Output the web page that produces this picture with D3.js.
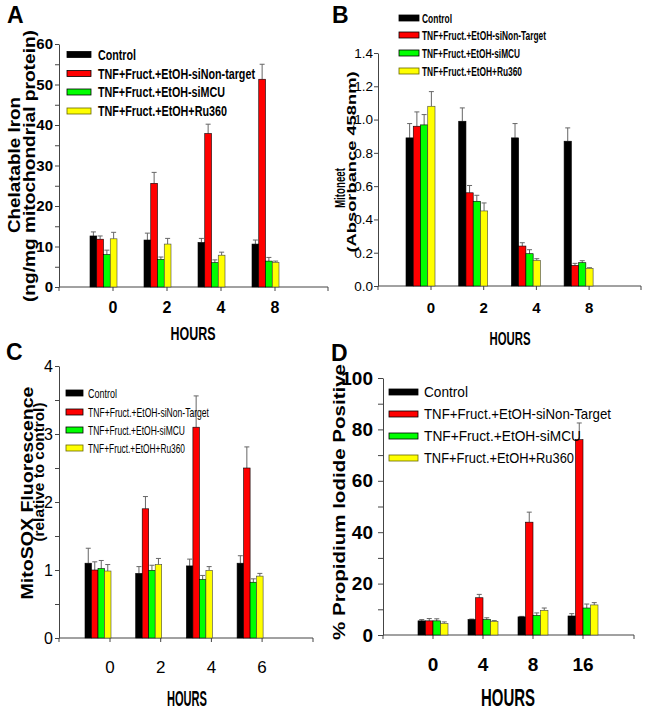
<!DOCTYPE html>
<html><head><meta charset="utf-8">
<script src="https://cdn.jsdelivr.net/npm/d3@7"></script>
<style>body{margin:0;background:#fff}svg{display:block}</style>
</head><body>
<script>
// ---------------- DATA ----------------
const seriesColors = ["#000000", "#ff0000", "#00ff00", "#ffff00"];
const seriesNamesA = ["Control", "TNF+Fruct.+EtOH-siNon-target", "TNF+Fruct.+EtOH-siMCU", "TNF+Fruct.+EtOH+Ru360"];
const seriesNames = ["Control", "TNF+Fruct.+EtOH-siNon-Target", "TNF+Fruct.+EtOH-siMCU", "TNF+Fruct.+EtOH+Ru360"];

// Panel A: Chelatable iron
const hoursA = ["0", "2", "4", "8"];
const ironControl = [12.6, 11.6, 11.0, 10.6];
const ironNonTarget = [11.8, 25.6, 37.9, 51.3];
const ironSiMCU = [8.0, 6.8, 6.0, 6.4];
const ironRu360 = [11.9, 10.6, 7.85, 6.1];
const ironControlErr = [1.0, 1.7, 1.0, 1.0];
const ironNonTargetErr = [0.8, 2.7, 2.3, 3.7];
const ironSiMCUErr = [1.1, 0.6, 0.7, 0.9];
const ironRu360Err = [1.6, 1.4, 0.75, 0.3];
const ticksA = [0, 10, 20, 30, 40, 50, 60];

// Panel B: Mitoneet
const hoursB = ["0", "2", "4", "8"];
const mitoControl = [0.89, 0.99, 0.89, 0.87];
const mitoNonTarget = [0.96, 0.56, 0.24, 0.124];
const mitoSiMCU = [0.968, 0.509, 0.194, 0.14];
const mitoRu360 = [1.08, 0.451, 0.154, 0.106];
const mitoControlErr = [0.086, 0.08, 0.086, 0.08];
const mitoNonTargetErr = [0.086, 0.044, 0.02, 0.012];
const mitoSiMCUErr = [0.062, 0.036, 0.024, 0.012];
const mitoRu360Err = [0.088, 0.048, 0.01, 0.004];
const ticksB = [0, 0.2, 0.4, 0.6, 0.8, 1.0, 1.2, 1.4];

// Panel C: MitoSOX
const hoursC = ["0", "2", "4", "6"];
const soxControl = [1.10, 0.95, 1.06, 1.10];
const soxNonTarget = [1.0, 1.90, 3.10, 2.50];
const soxSiMCU = [1.02, 0.995, 0.86, 0.82];
const soxRu360 = [0.985, 1.08, 0.995, 0.91];
const soxControlErr = [0.22, 0.10, 0.10, 0.11];
const soxNonTargetErr = [0.12, 0.18, 0.46, 0.31];
const soxSiMCUErr = [0.12, 0.075, 0.06, 0.05];
const soxRu360Err = [0.095, 0.09, 0.055, 0.04];
const ticksC = [0, 1, 2, 3, 4];

// Panel D: Propidium iodide
const hoursD = ["0", "4", "8", "16"];
const piControl = [5.5, 6.0, 7.05, 7.4];
const piNonTarget = [5.5, 14.5, 43.9, 76.0];
const piSiMCU = [5.5, 6.0, 7.6, 10.5];
const piRu360 = [4.5, 5.3, 9.6, 11.7];
const piControlErr = [0.5, 0.2, 0.2, 0.9];
const piNonTargetErr = [0.9, 1.3, 3.9, 6.5];
const piSiMCUErr = [0.8, 0.7, 1.0, 1.55];
const piRu360Err = [0.6, 0.3, 0.9, 0.9];
const ticksD = [0, 20, 40, 60, 80, 100];

// ---------------- DRAWING ----------------
const W = 646, H = 710;
const NARROW = "'Liberation Sans Narrow','Arial Narrow',sans-serif";
const WIDE = "'Liberation Sans',Arial,sans-serif";
const svg = d3.select("body").append("svg").attr("width", W).attr("height", H)
  .style("background", "#fff");

function text(g, x, y, s, o) {
  const t = g.append("text").attr("x", x).attr("y", y).text(s)
    .attr("font-family", o.family || NARROW)
    .attr("font-size", o.size)
    .attr("font-weight", o.weight || "bold")
    .attr("text-anchor", o.anchor || "start")
    .attr("fill", "#000");
  if (o.len) t.attr("textLength", o.len).attr("lengthAdjust", "spacingAndGlyphs");
  return t;
}
function vtext(g, x, y, s, o) {
  const t = g.append("text").attr("transform", `translate(${x},${y}) rotate(-90)`).text(s)
    .attr("font-family", o.family || WIDE)
    .attr("font-size", o.size)
    .attr("font-weight", "bold")
    .attr("text-anchor", "middle")
    .attr("fill", "#000");
  if (o.len) t.attr("textLength", o.len).attr("lengthAdjust", "spacingAndGlyphs");
  return t;
}

function panel(c) {
  const g = svg.append("g");
  const keys = [0, 1, 2, 3];
  const y = d3.scaleLinear().domain([c.yMin, c.yMax]).range([c.y0, c.yTop]);
  const n = c.cats.length;
  const pi = 1 - c.bandW / c.step, po = pi;
  const a = c.firstBand - po * c.step;
  const xg = d3.scaleBand().domain(c.cats).range([a, a + c.step * (n - pi + 2 * po)])
    .paddingInner(pi).paddingOuter(po);
  const xs = d3.scaleBand().domain(keys).range([0, xg.bandwidth()]);

  // y axis
  const ya = g.append("g").attr("transform", `translate(${c.x0},0)`)
    .call(d3.axisLeft(y).tickValues(c.ticks).tickSize(c.tickLen).tickSizeOuter(0)
      .tickPadding(c.tickPad).tickFormat(c.fmt));
  ya.select(".domain").attr("stroke", "#444");
  ya.selectAll(".tick line").attr("stroke", "#444");
  ya.selectAll(".tick text").attr("font-family", NARROW).attr("font-size", c.tickFont)
    .attr("font-weight", c.tickWeight || "bold").attr("fill", "#000");
  if (c.minor) {
    const ym = g.append("g").attr("transform", `translate(${c.x0},0)`)
      .call(d3.axisLeft(y).tickValues(c.minor).tickSize(c.tickLen).tickFormat(""));
    ym.select(".domain").remove();
    ym.selectAll(".tick line").attr("stroke", "#444");
  }

  // x axis
  g.append("line").attr("x1", c.x0).attr("x2", c.xEnd).attr("y1", y(0)).attr("y2", y(0))
    .attr("stroke", "#444");
  const xt = c.cats.map(d => xg(d) + c.tickOff);
  [c.x0, ...xt, c.xEnd].forEach(x => g.append("line").attr("x1", x).attr("x2", x)
    .attr("y1", y(0)).attr("y2", y(0) + 4).attr("stroke", "#444"));
  c.cats.forEach((d, i) => text(g, xt[i], c.xLabY, d,
    { size: c.xFont, anchor: "middle", weight: c.xWeight || "bold" }));
  text(g, c.hoursX, c.hoursY, "HOURS", { size: c.hoursFont, anchor: "middle", len: c.hoursLen });

  // bars
  c.series.forEach((s, k) => {
    c.cats.forEach((cat, i) => {
      const x = xg(cat) + xs(k), v = s.values[i], e = s.errs[i];
      const cx = x + xs.bandwidth() / 2;
      g.append("line").attr("x1", cx).attr("x2", cx).attr("y1", y(v)).attr("y2", y(v + e))
        .attr("stroke", "#666").attr("stroke-width", 1);
      g.append("line").attr("x1", cx - 2.5).attr("x2", cx + 2.5).attr("y1", y(v + e)).attr("y2", y(v + e))
        .attr("stroke", "#666").attr("stroke-width", 1);
      g.append("rect").attr("x", x).attr("y", y(v)).attr("width", xs.bandwidth())
        .attr("height", y(0) - y(v)).attr("fill", seriesColors[k])
        .attr("stroke", k === 3 ? "#444" : "#000").attr("stroke-width", 0.6);
    });
  });

  // legend
  c.names.forEach((nm, k) => {
    const cy = c.legRows[k];
    g.append("rect").attr("x", c.legX).attr("y", cy - c.swH / 2).attr("width", c.swW).attr("height", c.swH)
      .attr("fill", seriesColors[k]).attr("stroke", k === 3 ? "#666600" : "#000").attr("stroke-width", 0.8);
    text(g, c.legTextX, cy + c.legFont * 0.36, nm,
      { size: c.legFont, weight: c.legWeight, family: c.legFamily, len: c.legLens[k] });
  });

  // panel letter
  text(g, c.letterX, c.letterY, c.letter, { size: 23, family: WIDE });
  // y titles
  c.titles.forEach(t => vtext(g, t.x, t.y, t.s, { size: t.size, len: t.len }));
}

panel({
  letter: "A", letterX: 7, letterY: 23,
  cats: hoursA, names: seriesNamesA,
  series: [
    { values: ironControl, errs: ironControlErr },
    { values: ironNonTarget, errs: ironNonTargetErr },
    { values: ironSiMCU, errs: ironSiMCUErr },
    { values: ironRu360, errs: ironRu360Err }],
  yMin: 0, yMax: 60, y0: 287, yTop: 44, x0: 59, xEnd: 328,
  ticks: ticksA, minor: [5, 15, 25, 35, 45, 55], fmt: d3.format("d"),
  tickLen: 4, tickPad: 2, tickFont: 15,
  firstBand: 90, step: 54, bandW: 27, tickOff: 23,
  xLabY: 313, xFont: 16, hoursX: 193, hoursY: 340, hoursFont: 19, hoursLen: 45,
  legX: 67, swW: 24, swH: 6, legTextX: 98, legRows: [54.5, 73.5, 92, 111], legFont: 14,
  legWeight: "bold", legLens: [38, 157, 127, 129],
  titles: [{ x: 20, y: 165, s: "Chelatable Iron", size: 16, len: 136 },
           { x: 35, y: 166, s: "(ng/mg mitochondrial protein)", size: 16, len: 272 }]
});

panel({
  letter: "B", letterX: 332, letterY: 23,
  cats: hoursB, names: seriesNames,
  series: [
    { values: mitoControl, errs: mitoControlErr },
    { values: mitoNonTarget, errs: mitoNonTargetErr },
    { values: mitoSiMCU, errs: mitoSiMCUErr },
    { values: mitoRu360, errs: mitoRu360Err }],
  yMin: 0, yMax: 1.4, y0: 286, yTop: 53, x0: 378, xEnd: 641,
  ticks: ticksB, minor: null, fmt: d3.format(".1f"),
  tickLen: 4, tickPad: 1, tickFont: 13.5, tickWeight: "normal",
  firstBand: 406, step: 52.7, bandW: 29, tickOff: 25,
  xLabY: 313, xFont: 15, hoursX: 510, hoursY: 345, hoursFont: 18, hoursLen: 41,
  legX: 399, swW: 20, swH: 6, legTextX: 422, legRows: [18, 35, 53, 71], legFont: 13,
  legWeight: "bold", legLens: [30, 124, 98, 100],
  titles: [{ x: 345, y: 188, s: "Mitoneet", size: 14, len: 40 },
           { x: 356, y: 162, s: "(Absorbance 458nm)", size: 12, len: 181 }]
});

panel({
  letter: "C", letterX: 6, letterY: 360,
  cats: hoursC, names: seriesNames,
  series: [
    { values: soxControl, errs: soxControlErr },
    { values: soxNonTarget, errs: soxNonTargetErr },
    { values: soxSiMCU, errs: soxSiMCUErr },
    { values: soxRu360, errs: soxRu360Err }],
  yMin: 0, yMax: 4, y0: 638, yTop: 366, x0: 59, xEnd: 313,
  ticks: ticksC, minor: [0.5, 1.5, 2.5, 3.5], fmt: d3.format("d"),
  tickLen: 4, tickPad: 2, tickFont: 16, tickWeight: "normal",
  firstBand: 85, step: 50.7, bandW: 26, tickOff: 25,
  xLabY: 673, xFont: 17, xWeight: "normal", hoursX: 187, hoursY: 706, hoursFont: 22, hoursLen: 40,
  legX: 66, swW: 17, swH: 6, legTextX: 88, legRows: [393, 412, 430, 448], legFont: 13.5,
  legWeight: "normal", legLens: [29, 121, 97, 97],
  titles: [{ x: 33, y: 493, s: "MitoSOX Fluorescence", size: 16, len: 213 },
           { x: 44, y: 472, s: "(relative to control)", size: 15, len: 139 }]
});

panel({
  letter: "D", letterX: 331, letterY: 361,
  cats: hoursD, names: seriesNames,
  series: [
    { values: piControl, errs: piControlErr },
    { values: piNonTarget, errs: piNonTargetErr },
    { values: piSiMCU, errs: piSiMCUErr },
    { values: piRu360, errs: piRu360Err }],
  yMin: 0, yMax: 100, y0: 635, yTop: 378, x0: 383, xEnd: 634,
  ticks: ticksD, minor: [10, 30, 50, 70, 90], fmt: d3.format("d"),
  tickLen: 5, tickPad: 5, tickFont: 19,
  firstBand: 418, step: 50, bandW: 30, tickOff: 15,
  xLabY: 671, xFont: 19, hoursX: 508, hoursY: 706, hoursFont: 23, hoursLen: 54,
  legX: 389, swW: 29, swH: 6, legTextX: 424, legRows: [392, 414, 436, 458], legFont: 15,
  legWeight: "normal", legFamily: WIDE, legLens: [44, 187, 157, 150],
  titles: [{ x: 345, y: 502, s: "% Propidium Iodide Positive", size: 16, len: 276 }]
});
</script>
</body></html>
